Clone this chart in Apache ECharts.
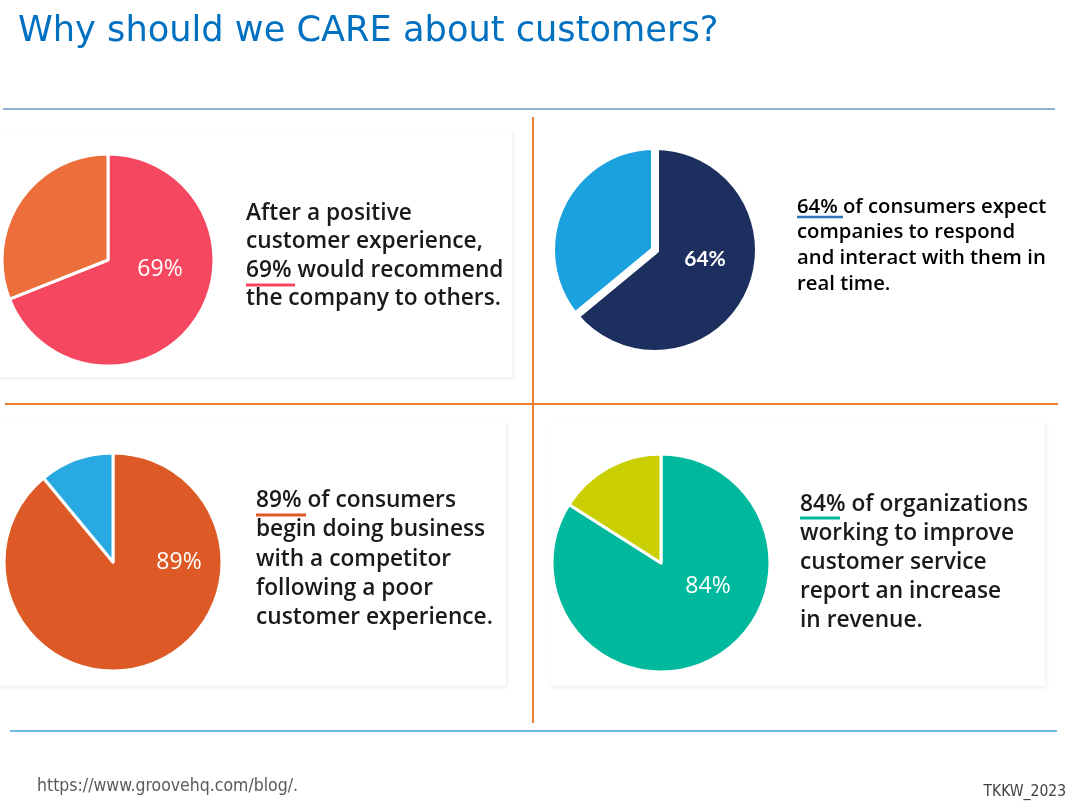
<!DOCTYPE html>
<html>
<head>
<meta charset="utf-8">
<script src="https://cdn.jsdelivr.net/npm/echarts@6/dist/echarts.min.js"></script>
<style>html,body{margin:0;padding:0;background:#fff;}#c{width:1083px;height:806px;}</style>
</head>
<body>
<div id="c"></div>
<script>
// ---- data ----
const pieLabels = ['69%', '64%', '89%', '84%'];
const mainValues = [69, 64, 89, 84];
const restValues = [31, 36, 11, 16];
const mainNames = ['Would recommend', 'Expect real-time', 'Switch to competitor', 'Revenue increase'];
const restNames = ['Other', 'Other', 'Other', 'Other'];
const text1 = ['After a positive', 'customer experience,', '69% would recommend', 'the company to others.'];
const text2 = ['64% of consumers expect', 'companies to respond', 'and interact with them in', 'real time.'];
const text3 = ['89% of consumers', 'begin doing business', 'with a competitor', 'following a poor', 'customer experience.'];
const text4 = ['84% of organizations', 'working to improve', 'customer service', 'report an increase', 'in revenue.'];
const titleText = 'Why should we CARE about customers?';
const sourceText = 'https://www.groovehq.com/blog/.';
const credit = 'TKKW_2023';

// ---- styling / layout ----
const mainColors = ['#f5475f', '#1d2f5e', '#dd5a26', '#00b89c'];
const restColors = ['#ec6f3b', '#1ba1dd', '#29a9e1', '#c9cf00'];
const centers = [[108, 260], [655, 250], [113, 562], [661, 563]];
const radii = [106, 104, 109, 109];
const borders = [3, 8, 3, 3];
const labelOffsets = [[52, 9], [50, 9], [66, 0], [47, 23]];
const labelFonts = [
  {fontFamily: 'Open Sans', fontWeight: 400, fontSize: 23},
  {fontFamily: 'Lato', fontWeight: 700, fontSize: 21},
  {fontFamily: 'Open Sans', fontWeight: 400, fontSize: 23},
  {fontFamily: 'Open Sans', fontWeight: 400, fontSize: 23}
];

const series = mainValues.map((v, i) => ({
  type: 'pie',
  center: centers[i],
  radius: radii[i],
  startAngle: 90,
  clockwise: true,
  silent: true,
  animation: false,
  label: {show: false},
  labelLine: {show: false},
  itemStyle: {borderColor: '#ffffff', borderWidth: borders[i]},
  data: [
    {value: v, name: mainNames[i], itemStyle: {color: mainColors[i]},
     label: Object.assign({show: true, position: 'center', formatter: pieLabels[i], color: '#ffffff', offset: labelOffsets[i]}, labelFonts[i])},
    {value: restValues[i], name: restNames[i], itemStyle: {color: restColors[i]}}
  ]
}));

function textLines(lines, x, ys, font) {
  return lines.map((t, k) => ({
    type: 'text', x: x, y: ys[k], z: 10,
    style: Object.assign({text: t, fill: '#1a1a1a', verticalAlign: 'middle', align: 'left'}, font)
  }));
}
const geo = {fontFamily: 'Open Sans', fontWeight: 600, fontSize: 22.7};
const seg = {fontFamily: 'Open Sans', fontWeight: 600, fontSize: 20.3, fill: '#000'};
const cardStyle = {fill: '#fff', shadowColor: 'rgba(0,0,0,0.07)', shadowBlur: 4, shadowOffsetX: 1, shadowOffsetY: 2};

const graphics = [
  // cards
  {type: 'rect', shape: {x: -20, y: 130, width: 532, height: 247}, style: cardStyle, z: 0},
  {type: 'rect', shape: {x: -20, y: 420, width: 526, height: 266}, style: cardStyle, z: 0},
  {type: 'rect', shape: {x: 551, y: 420, width: 494, height: 266}, style: cardStyle, z: 0},
  // title
  {type: 'text', x: 18, y: 32, z: 10, style: {text: titleText, fill: '#0070c0', fontFamily: 'DejaVu Sans', fontSize: 35.2, verticalAlign: 'middle'}},
  // rules
  {type: 'line', shape: {x1: 3, y1: 109, x2: 1055, y2: 109}, style: {stroke: '#6b96bf', lineWidth: 1.3}, z: 5},
  {type: 'line', shape: {x1: 10, y1: 731, x2: 1057, y2: 731}, style: {stroke: '#3f9fdc', lineWidth: 1.3}, z: 5},
  {type: 'line', shape: {x1: 5, y1: 404, x2: 1058, y2: 404}, style: {stroke: '#ed7d31', lineWidth: 2}, z: 5},
  {type: 'line', shape: {x1: 533, y1: 117, x2: 533, y2: 723}, style: {stroke: '#ed7d31', lineWidth: 2}, z: 5},
  // underlines
  {type: 'line', shape: {x1: 246, y1: 285, x2: 295, y2: 285}, style: {stroke: mainColors[0], lineWidth: 3}, z: 10},
  {type: 'line', shape: {x1: 797, y1: 217, x2: 843, y2: 217}, style: {stroke: '#2e75b6', lineWidth: 2.5}, z: 10},
  {type: 'line', shape: {x1: 256, y1: 515, x2: 306, y2: 515}, style: {stroke: mainColors[2], lineWidth: 3}, z: 10},
  {type: 'line', shape: {x1: 800, y1: 518, x2: 840, y2: 518}, style: {stroke: mainColors[3], lineWidth: 3}, z: 10},
  // footer
  {type: 'text', x: 37, y: 786, z: 10, style: {text: sourceText, fill: '#595959', fontFamily: "'Liberation Sans Narrow', 'DejaVu Sans Condensed', sans-serif", fontSize: 17.5, verticalAlign: 'middle'}},
  {type: 'text', x: 1066, y: 792, z: 10, style: {text: credit, fill: '#404040', fontFamily: "'Liberation Sans Narrow', 'DejaVu Sans Condensed', sans-serif", fontSize: 15.5, verticalAlign: 'middle', align: 'right'}}
]
.concat(textLines(text1, 246, [214, 242, 271, 299], geo))
.concat(textLines(text2, 797, [207, 232, 258, 284], seg))
.concat(textLines(text3, 256, [501, 530, 560, 589, 618], geo))
.concat(textLines(text4, 800, [505, 534, 563, 592, 621], geo));

const chart = echarts.init(document.getElementById('c'), null, {renderer: 'canvas'});
chart.setOption({
  backgroundColor: '#ffffff',
  animation: false,
  graphic: {elements: graphics},
  series: series
});
</script>
</body>
</html>
